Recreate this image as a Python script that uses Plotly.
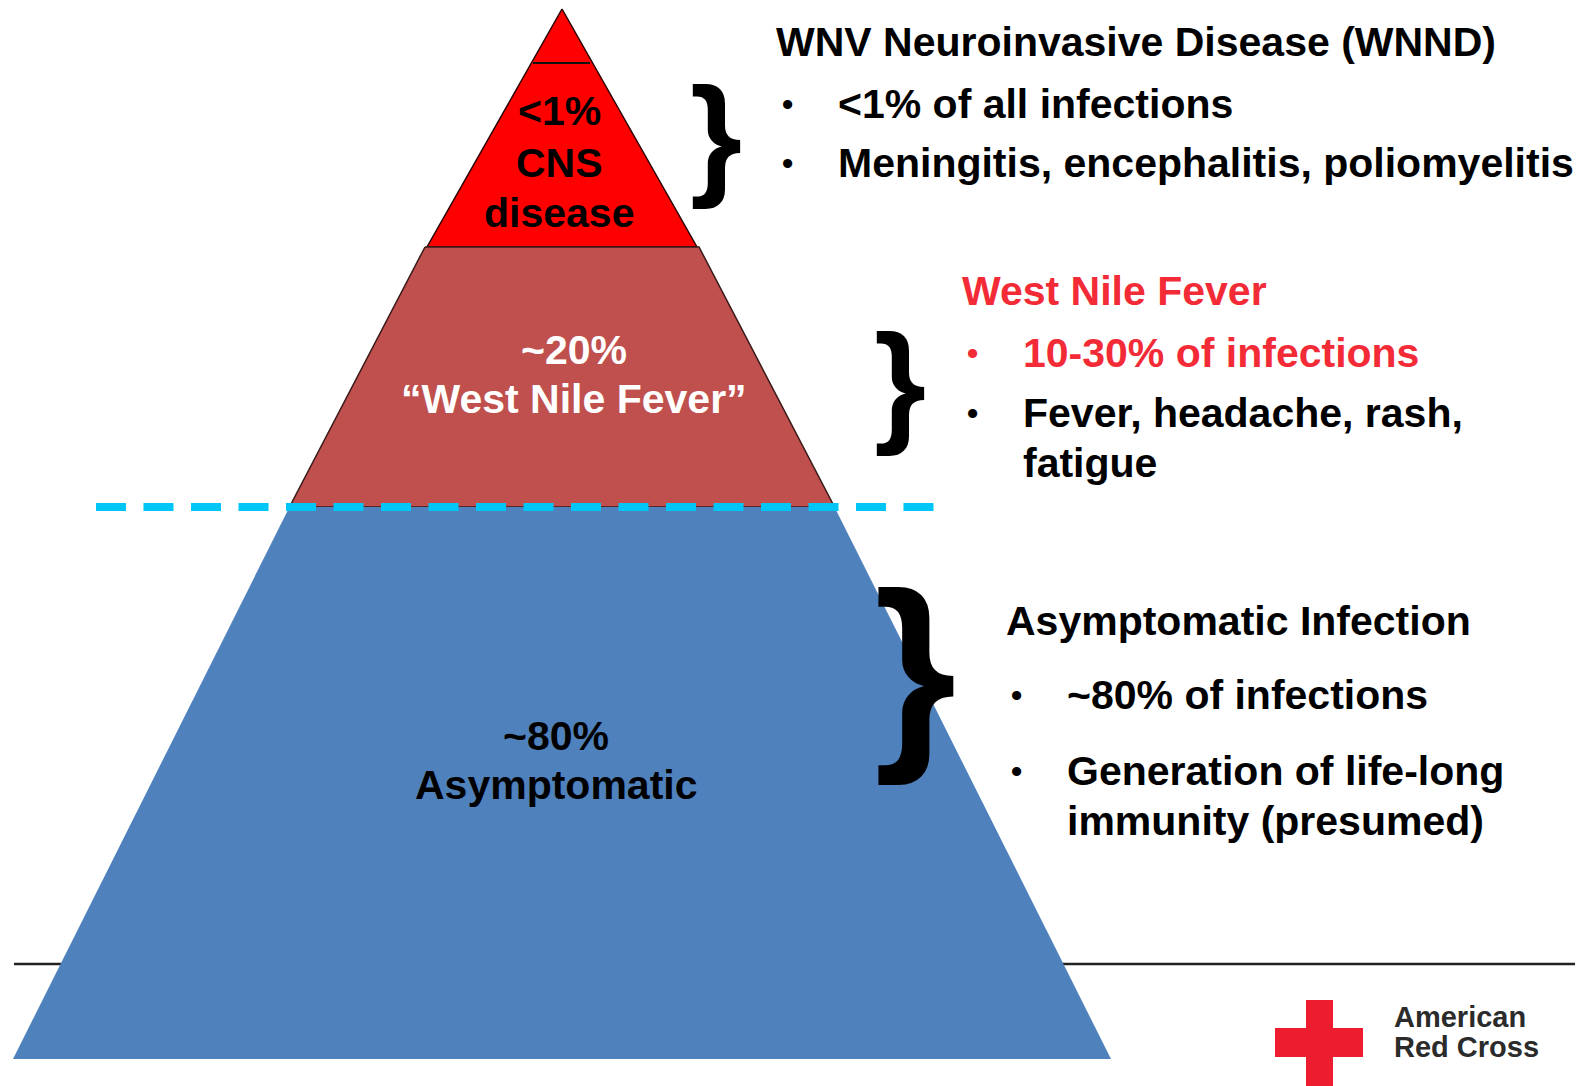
import plotly.graph_objects as go

# ---------------- data ----------------
tier_names = ["CNS disease", "West Nile Fever", "Asymptomatic"]
tier_pct = ["<1%", "~20%", "~80%"]
tier_inner_lines = [["<1%", "CNS", "disease"],
                    ["~20%", "\u201cWest Nile Fever\u201d"],
                    ["~80%", "Asymptomatic"]]
side_titles = ["WNV Neuroinvasive Disease (WNND)", "West Nile Fever", "Asymptomatic Infection"]
side_bullets = [["<1% of all infections", "Meningitis, encephalitis, poliomyelitis"],
                ["10-30% of infections", "Fever, headache, rash,<br>fatigue"],
                ["~80% of infections", "Generation of life-long<br>immunity (presumed)"]]
logo_lines = ["American", "Red Cross"]

# ---------------- geometry / style (pixel units, y down) ----------------
W, H = 1579, 1086
FONT = "Liberation Sans, Arial, sans-serif"
FS = 41
RED_TXT = "#F22B36"

# pyramid tiers: (top_y, top_halfwidth, bottom_y, bottom_halfwidth)
CX = 562
tier_geom = [(9, 0, 247, 135), (247, 137, 507, 272.5), (507, 272.5, 1059, 549)]
tier_fill = ["#FF0000", "#C0504D", "#4F81BD"]
tier_line = ["#2a0000", "#3a1a1a", "rgba(0,0,0,0)"]
tier_text_color = ["#000000", "#FFFFFF", "#000000"]
tier_text_x = [559, 574, 556]
tier_text_y = [[111, 163, 212.5], [349.5, 399], [736, 784.5]]

fig = go.Figure()

# baseline horizontal rule (behind pyramid)
fig.add_trace(go.Scatter(x=[14, 1575], y=[964, 964], mode="lines",
                         line=dict(color="#222222", width=2.5), hoverinfo="skip"))

for i, (ty, tw, by, bw) in enumerate(tier_geom):
    xs = [CX - tw, CX + tw, CX + bw, CX - bw, CX - tw]
    ys = [ty, ty, by, by, ty]
    fig.add_trace(go.Scatter(x=xs, y=ys, mode="lines", fill="toself",
                             fillcolor=tier_fill[i],
                             line=dict(color=tier_line[i], width=1.5),
                             name=tier_names[i], hoverinfo="skip"))

# small line near apex
fig.add_trace(go.Scatter(x=[533, 590], y=[63, 63], mode="lines",
                         line=dict(color="#111111", width=2), hoverinfo="skip"))

# dashed "waterline"
fig.add_trace(go.Scatter(x=[96, 934], y=[507, 507], mode="lines",
                         line=dict(color="#00C6F7", width=8, dash="30px,17.5px"),
                         hoverinfo="skip"))

ann = []
def txt(x, y, s, color="#000000", size=FS, xanchor="left", weight="bold"):
    ann.append(dict(x=x, y=y, xref="x", yref="y", text=s, showarrow=False,
                    xanchor=xanchor, yanchor="middle", align="left",
                    font=dict(family=FONT, size=size, color=color, weight=weight)))

# inner tier labels
for i, lines in enumerate(tier_inner_lines):
    for j, s in enumerate(lines):
        txt(tier_text_x[i], tier_text_y[i][j], s, color=tier_text_color[i], xanchor="center")

# side text blocks
title_pos = [(774, 42), (960, 291), (1004, 621)]
bullet_x = [(780, 836), (965, 1021), (1009, 1065)]
bullet_y = [[104, 163], [352.5, 413], [695, 771.4]]
title_col = ["#000000", RED_TXT, "#000000"]
bullet_col = [["#000000", "#000000"], [RED_TXT, "#000000"], ["#000000", "#000000"]]
for i in range(3):
    txt(title_pos[i][0], title_pos[i][1], side_titles[i], color=title_col[i])
    for j, s in enumerate(side_bullets[i]):
        c = bullet_col[i][j]
        txt(bullet_x[i][0], bullet_y[i][j], "\u2022", color=c, size=32)
        if "<br>" in s:
            a, b = s.split("<br>")
            txt(bullet_x[i][1], bullet_y[i][j], a, color=c)
            txt(bullet_x[i][1], bullet_y[i][j] + 49.5, b, color=c)
        else:
            txt(bullet_x[i][1], bullet_y[i][j], s, color=c)

# braces
brace_pos = [(716, 134, 134), (900, 381, 134), (915, 667, 212)]
for (bx, by, bs) in brace_pos:
    ann.append(dict(x=bx, y=by, xref="x", yref="y", text="}", showarrow=False,
                    xanchor="center", yanchor="middle",
                    font=dict(family=FONT, size=bs, color="#000000", weight="bold")))

# logo text
txt(1392, 1017, logo_lines[0], color="#2b2b2b", size=29)
txt(1392, 1047, logo_lines[1], color="#2b2b2b", size=29)

shapes = [
    dict(type="rect", xref="x", yref="y", x0=1306, x1=1333, y0=1000, y1=1086,
         fillcolor="#ED1C2E", line=dict(width=0)),
    dict(type="rect", xref="x", yref="y", x0=1275, x1=1363, y0=1028, y1=1057,
         fillcolor="#ED1C2E", line=dict(width=0)),
]

fig.update_layout(
    width=W, height=H, margin=dict(l=0, r=0, t=0, b=0),
    paper_bgcolor="white", plot_bgcolor="white", showlegend=False,
    xaxis=dict(range=[0, W], visible=False, fixedrange=True),
    yaxis=dict(range=[H, 0], visible=False, fixedrange=True),
    annotations=ann, shapes=shapes,
)

fig.write_html("out.html", config={"displayModeBar": False},
               post_script="document.body.style.margin='0';")
